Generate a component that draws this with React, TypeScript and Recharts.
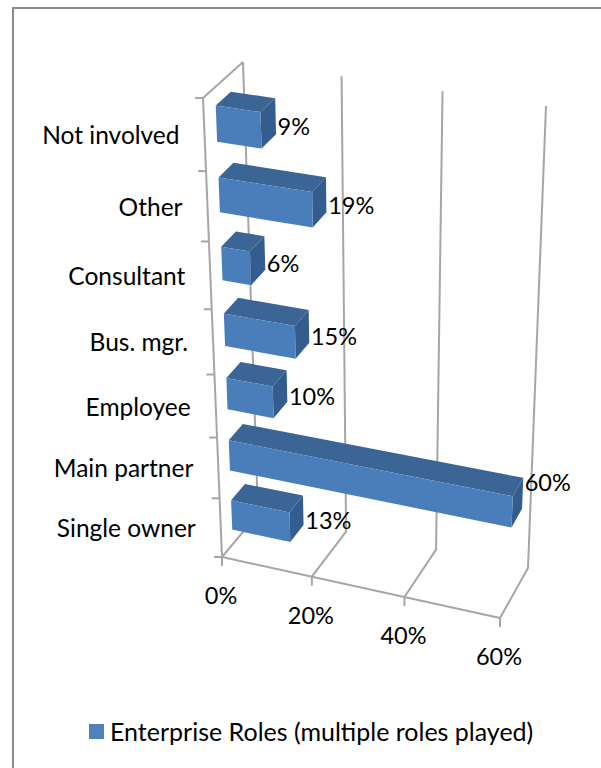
import { BarChart, Bar, XAxis, YAxis, Legend, LabelList, CartesianGrid } from "recharts";

const roles = ["Not involved", "Other", "Consultant", "Bus. mgr.", "Employee", "Main partner", "Single owner"];
const shares = [9, 19, 6, 15, 10, 60, 13];
const valueTicks = [0, 20, 40, 60];

const chartData = roles.map((role, i) => ({ role, share: shares[i] }));

const WIDTH = 601;
const HEIGHT = 768;
const PLOT = { left: 100, top: 60, width: 400, height: 490 };
const AXIS_W = 60;
const AXIS_H = 30;
const FONT = "Lato, 'Noto Sans', sans-serif";
const GRID = "#A6A6A6";

type Pt = [number, number];

// maps the unit square onto a quadrilateral (tl, tr, br, bl)
function quad(tl: Pt, tr: Pt, br: Pt, bl: Pt) {
  const dx1 = tr[0] - br[0];
  const dx2 = bl[0] - br[0];
  const sx = tl[0] - tr[0] + br[0] - bl[0];
  const dy1 = tr[1] - br[1];
  const dy2 = bl[1] - br[1];
  const sy = tl[1] - tr[1] + br[1] - bl[1];
  const det = dx1 * dy2 - dx2 * dy1;
  const g = (sx * dy2 - dx2 * sy) / det;
  const h = (dx1 * sy - sx * dy1) / det;
  const a = tr[0] - tl[0] + g * tr[0];
  const b = bl[0] - tl[0] + h * bl[0];
  const d = tr[1] - tl[1] + g * tr[1];
  const e = bl[1] - tl[1] + h * bl[1];
  return (u: number, v: number): Pt => {
    const w = g * u + h * v + 1;
    return [(a * u + b * v + tl[0]) / w, (d * u + e * v + tl[1]) / w];
  };
}

const frontPlane = quad([203, 98], [520, 143], [500, 618], [222, 557]);
const backPlane = quad([243, 62], [546, 106], [528, 568], [258, 514]);

// flat plot coordinates + depth (0 front, 1 back) to screen
function project(x: number, y: number, depth: number): Pt {
  const u = (x - PLOT.left) / PLOT.width;
  const v = (y - PLOT.top) / PLOT.height;
  const f = frontPlane(u, v);
  const b = backPlane(u, v);
  return [f[0] + (b[0] - f[0]) * depth, f[1] + (b[1] - f[1]) * depth];
}

const poly = (pts: Pt[]) => pts.map((p) => p.join(",")).join(" ");

const BAR_FRONT = 0.3;
const BAR_BACK = 0.68;

function Bar3D({ x, y, width, height }: any) {
  const x2 = x + width;
  const y2 = y + height;
  const ftl = project(x, y, BAR_FRONT);
  const ftr = project(x2, y, BAR_FRONT);
  const fbr = project(x2, y2, BAR_FRONT);
  const fbl = project(x, y2, BAR_FRONT);
  const btl = project(x, y, BAR_BACK);
  const btr = project(x2, y, BAR_BACK);
  const bbr = project(x2, y2, BAR_BACK);
  return (
    <g>
      <polygon points={poly([btl, btr, ftr, ftl])} fill="#3B6595" />
      <polygon points={poly([ftr, btr, bbr, fbr])} fill="#335D8E" />
      <polygon points={poly([ftl, ftr, fbr, fbl])} fill="#4A7EBB" />
    </g>
  );
}

function ValueLabel({ x, y, width, height, value }: any) {
  const p = project(x + width, y + height / 2, BAR_BACK);
  // the long bar's label rides above its end, the others hang a little below
  const dy = value === 60 ? -8 : 13;
  return (
    <text x={p[0] + 2} y={p[1] + dy} fontFamily={FONT} fontSize={23.5} fill="#000" dominantBaseline="middle">
      {value}%
    </text>
  );
}

// floor segment and back wall line for one value, goes under the bars
function WallLine({ x1 }: any) {
  const bottom = PLOT.top + PLOT.height;
  return (
    <polyline
      points={poly([project(x1, bottom, 0), project(x1, bottom, 1), project(x1, PLOT.top, 1)])}
      fill="none"
      stroke={GRID}
      strokeWidth={2}
    />
  );
}

// value axis: tick mark and label
function ValueTick({ x, payload }: any) {
  const bottom = PLOT.top + PLOT.height;
  const front = project(x, bottom, 0);
  const floorEnd = project(PLOT.left + PLOT.width, bottom, 0);
  return (
    <g>
      <line x1={front[0]} y1={front[1]} x2={front[0]} y2={front[1] + 9} stroke={GRID} strokeWidth={2} />
      {payload.value === 0 && (
        <line x1={front[0]} y1={front[1]} x2={floorEnd[0]} y2={floorEnd[1]} stroke={GRID} strokeWidth={2} />
      )}
      <text x={front[0] - 1} y={front[1] + 41} textAnchor="middle" dominantBaseline="middle" fontFamily={FONT} fontSize={23.5} fill="#000">
        {payload.value}%
      </text>
    </g>
  );
}

// category axis: tick marks sit on band edges, labels in the middle of the band
function RoleTick({ y, payload, index }: any) {
  const band = PLOT.height / roles.length;
  const upper = project(PLOT.left, y - band / 2, 0);
  const lower = project(PLOT.left, y + band / 2, 0);
  const upperBack = project(PLOT.left, y - band / 2, 1);
  const mid = project(PLOT.left, y, 0);
  return (
    <g>
      <line x1={upper[0] - 8} y1={upper[1]} x2={upper[0]} y2={upper[1]} stroke={GRID} strokeWidth={2} />
      <line x1={upper[0]} y1={upper[1]} x2={lower[0]} y2={lower[1]} stroke={GRID} strokeWidth={2} />
      {index === roles.length - 1 && (
        <line x1={lower[0] - 8} y1={lower[1]} x2={lower[0]} y2={lower[1]} stroke={GRID} strokeWidth={2} />
      )}
      {index === 0 && (
        <line x1={upper[0]} y1={upper[1]} x2={upperBack[0]} y2={upperBack[1]} stroke={GRID} strokeWidth={2} />
      )}
      <text x={mid[0] - 25} y={mid[1] + 3} textAnchor="end" dominantBaseline="middle" fontFamily={FONT} fontSize={24.5} fill="#000">
        {payload.value}
      </text>
    </g>
  );
}

function LegendRow() {
  return (
    <div style={{ display: "flex", alignItems: "center", fontFamily: FONT, fontSize: 25, color: "#000", whiteSpace: "nowrap" }}>
      <span style={{ width: 15, height: 15, background: "#4F81BD", marginRight: 6 }} />
      Enterprise Roles (multiple roles played)
    </div>
  );
}

export default function App() {
  return (
    <div style={{ position: "absolute", left: 0, top: 0, width: WIDTH, height: HEIGHT, overflow: "hidden", background: "#fff" }}>
      <div style={{ position: "absolute", left: 12, top: 7, width: WIDTH, height: HEIGHT, border: "2px solid #8C8C8C", boxSizing: "border-box" }} />
      <BarChart
        width={WIDTH}
        height={HEIGHT}
        layout="vertical"
        data={chartData}
        barCategoryGap="25%"
        margin={{
          left: PLOT.left - AXIS_W,
          top: PLOT.top,
          right: WIDTH - PLOT.left - PLOT.width,
          bottom: HEIGHT - PLOT.top - PLOT.height - AXIS_H,
        }}
      >
        <CartesianGrid horizontal={false} vertical={<WallLine />} />
        <XAxis
          type="number"
          domain={[0, 60]}
          ticks={valueTicks}
          height={AXIS_H}
          axisLine={false}
          tickLine={false}
          tick={<ValueTick />}
          interval={0}
        />
        <YAxis
          type="category"
          dataKey="role"
          width={AXIS_W}
          axisLine={false}
          tickLine={false}
          tick={<RoleTick />}
          interval={0}
        />
        {/* middle alignment keeps the legend from eating into the plot area */}
        <Legend
          verticalAlign="middle"
          content={<LegendRow />}
          wrapperStyle={{ left: 89, top: 716, width: 480 }}
        />
        <Bar dataKey="share" name="Enterprise Roles (multiple roles played)" shape={<Bar3D />} isAnimationActive={false}>
          <LabelList dataKey="share" content={<ValueLabel />} />
        </Bar>
      </BarChart>
    </div>
  );
}
